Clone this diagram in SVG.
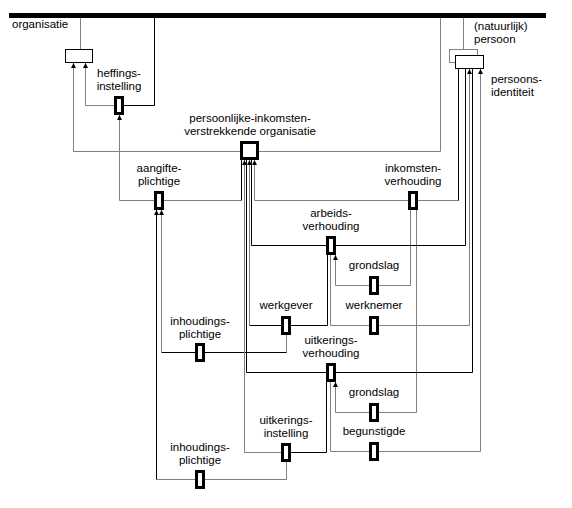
<svg xmlns="http://www.w3.org/2000/svg" width="572" height="508" viewBox="0 0 572 508">
<style>
text{font-family:"Liberation Sans",Arial,sans-serif;font-size:11.5px;fill:#000}
.m{text-anchor:middle}
.g{stroke:#808080;stroke-width:1;fill:none}
.k{stroke:#000;stroke-width:1;fill:none}
.a{marker-end:url(#ar)}
.r{fill:#fff;stroke:#000;stroke-width:3}
</style>
<defs>
<marker id="ar" markerUnits="userSpaceOnUse" markerWidth="6" markerHeight="6" refX="5" refY="2.5" orient="auto">
<path d="M0,0 L5,2.5 L0,5 z" fill="#000"/>
</marker>
</defs>
<rect width="572" height="508" fill="#fff"/>
<g id="connectors">
<path class="g" d="M80.5 18 V49"/>
<path class="k" d="M119 105.5 H154.5 V18"/>
<path class="g a" d="M119 105.5 H85.5 V63"/>
<path class="g a" d="M249.5 151.5 H73.5 V63"/>
<path class="g" d="M249.5 151.5 H440.5 V18"/>
<path class="g" d="M463.5 18 V49"/>
<path class="g a" d="M159 200.5 H119.5 V115"/>
<path class="g" d="M159 200.5 H241.5"/>
<path class="k" d="M241.5 200.5 V160"/>
<path class="g a" d="M413 200.5 H254.5 V160"/>
<path class="g" d="M413 200.5 H458.5"/>
<path class="k" d="M458.5 200.5 V69"/>
<path class="g" d="M410.5 209 V285.5 H374"/>
<path class="g" d="M416.5 209 V412.5 H374"/>
<path class="k" d="M331 245.5 H251.5 V160"/>
<path class="k" d="M331 245.5 H465.5 V69"/>
<path class="g a" d="M374 285.5 H335.5 V255"/>
<path class="k" d="M286 325.5 H249.5"/>
<path class="g a" d="M249.5 325.5 V160"/>
<path class="k" d="M286 325.5 H327.5 V255"/>
<path class="g" d="M286.5 335 V352.5 H200"/>
<path class="g" d="M374 325.5 H330.5 V255"/>
<path class="g a" d="M374 325.5 H469.5 V69"/>
<path class="k" d="M200 352.5 H161.5"/>
<path class="g a" d="M161.5 352.5 V210"/>
<path class="k" d="M200 352.5 H286.5"/>
<path class="k" d="M331 372.5 H246.5 V160"/>
<path class="k" d="M331 372.5 H472.5 V69"/>
<path class="g a" d="M374 412.5 H335.5 V382"/>
<path class="g" d="M374 451.5 H330.5 V382"/>
<path class="g a" d="M374 451.5 H480.5 V69"/>
<path class="g a" d="M286 452.5 H244.5 V160"/>
<path class="k" d="M286 452.5 H326.5 V382"/>
<path class="g" d="M286.5 462 V479.5 H200"/>
<path class="g" d="M200 479.5 H156.5"/>
<path class="k a" d="M156.5 479.5 V210"/>
</g>
<g id="bar"><rect x="9" y="13" width="537" height="5" fill="#000"/></g>
<g id="organisatie">
<rect x="65.5" y="49.5" width="27" height="13" fill="#fff" stroke="#000"/>
<text x="12" y="28">organisatie</text>
</g>
<g id="persoon">
<rect x="449.5" y="49.5" width="28" height="13" fill="#fff" stroke="#808080"/>
<rect x="455.5" y="55.5" width="28" height="13" fill="#fff" stroke="#000"/>
<text x="474" y="30">(natuurlijk)</text>
<text x="474" y="43">persoon</text>
<text x="491" y="83">persoons-</text>
<text x="491" y="96">identiteit</text>
</g>
<g id="heffingsinstelling">
<rect class="r" x="115.5" y="97.5" width="7" height="16"/>
<text class="m" x="119" y="76.5">heffings-</text>
<text class="m" x="119" y="89.5">instelling</text>
</g>
<g id="pio">
<rect class="r" x="241.5" y="142.5" width="16" height="16"/>
<text class="m" x="250" y="122">persoonlijke-inkomsten-</text>
<text class="m" x="250" y="135">verstrekkende organisatie</text>
</g>
<g id="aangifteplichtige">
<rect class="r" x="155.5" y="192.5" width="7" height="16"/>
<text class="m" x="159" y="171.5">aangifte-</text>
<text class="m" x="159" y="184.5">plichtige</text>
</g>
<g id="inkomstenverhouding">
<rect class="r" x="409.5" y="192.5" width="7" height="16"/>
<text class="m" x="413" y="171.5">inkomsten-</text>
<text class="m" x="413" y="184.5">verhouding</text>
</g>
<g id="arbeidsverhouding">
<rect class="r" x="327.5" y="237.5" width="7" height="16"/>
<text class="m" x="331" y="217">arbeids-</text>
<text class="m" x="331" y="230">verhouding</text>
</g>
<g id="grondslag1">
<rect class="r" x="370.5" y="277.5" width="7" height="16"/>
<text class="m" x="374" y="269">grondslag</text>
</g>
<g id="werkgever">
<rect class="r" x="282.5" y="317.5" width="7" height="16"/>
<text class="m" x="286" y="309">werkgever</text>
</g>
<g id="werknemer">
<rect class="r" x="370.5" y="317.5" width="7" height="16"/>
<text class="m" x="374" y="309">werknemer</text>
</g>
<g id="inhoudingsplichtige1">
<rect class="r" x="196.5" y="344.5" width="7" height="16"/>
<text class="m" x="200" y="324.5">inhoudings-</text>
<text class="m" x="200" y="337.5">plichtige</text>
</g>
<g id="uitkeringsverhouding">
<rect class="r" x="327.5" y="364.5" width="7" height="16"/>
<text class="m" x="331" y="344">uitkerings-</text>
<text class="m" x="331" y="357">verhouding</text>
</g>
<g id="grondslag2">
<rect class="r" x="370.5" y="404.5" width="7" height="16"/>
<text class="m" x="374" y="396">grondslag</text>
</g>
<g id="begunstigde">
<rect class="r" x="370.5" y="443.5" width="7" height="16"/>
<text class="m" x="374" y="435">begunstigde</text>
</g>
<g id="uitkeringsinstelling">
<rect class="r" x="282.5" y="444.5" width="7" height="16"/>
<text class="m" x="286" y="424">uitkerings-</text>
<text class="m" x="286" y="437">instelling</text>
</g>
<g id="inhoudingsplichtige2">
<rect class="r" x="196.5" y="471.5" width="7" height="16"/>
<text class="m" x="200" y="451">inhoudings-</text>
<text class="m" x="200" y="464">plichtige</text>
</g>
</svg>
